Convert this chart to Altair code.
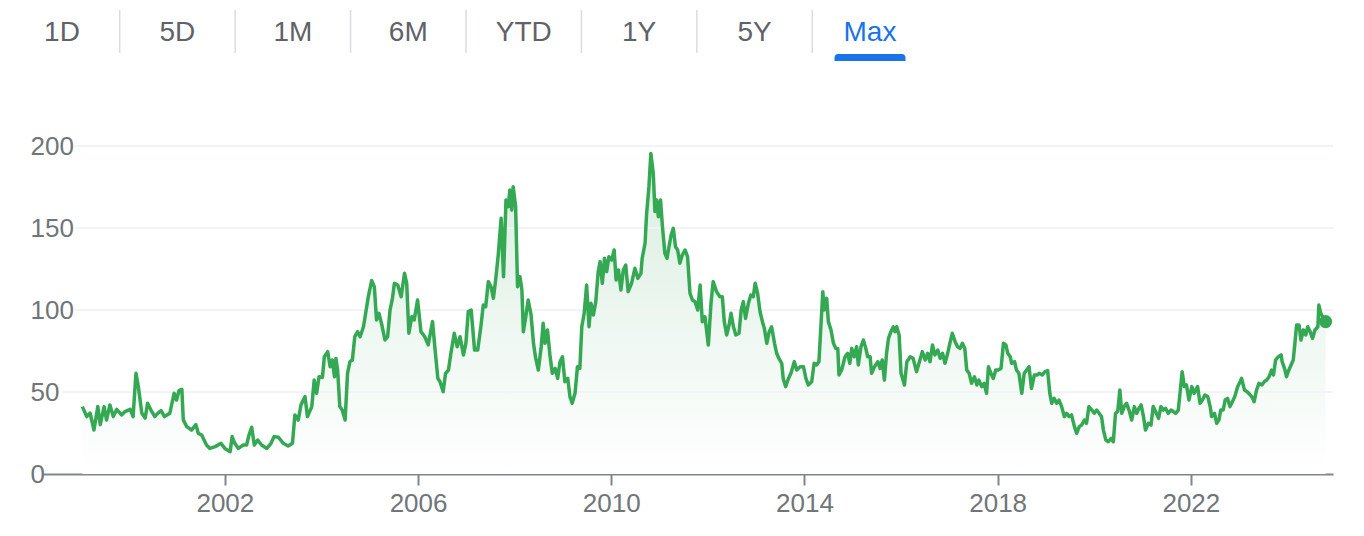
import altair as alt
import pandas as pd

TABS = ["1D", "5D", "1M", "6M", "YTD", "1Y", "5Y", "Max"]
ACTIVE_TAB = "Max"
Y_TICKS = [0, 50, 100, 150, 200]
X_TICKS = [2002, 2006, 2010, 2014, 2018, 2022]

# decimal year of each sample
T = [
    1999.05, 1999.14, 1999.21, 1999.29, 1999.37, 1999.42, 1999.50, 1999.55, 1999.62, 1999.69, 1999.76, 1999.86, 1999.93,
    2000.04, 2000.10, 2000.16, 2000.21, 2000.28, 2000.35, 2000.40, 2000.47, 2000.55, 2000.61, 2000.68, 2000.75, 2000.86, 2000.95,
    2001.00, 2001.05, 2001.11, 2001.14, 2001.21, 2001.31, 2001.40, 2001.45, 2001.52, 2001.62, 2001.69, 2001.80, 2001.92,
    2002.00, 2002.11, 2002.15, 2002.20, 2002.28, 2002.38, 2002.45, 2002.50, 2002.555, 2002.61, 2002.68, 2002.76, 2002.87, 2002.955,
    2003.02, 2003.11, 2003.21, 2003.31, 2003.40, 2003.45, 2003.52, 2003.575, 2003.66, 2003.71, 2003.80, 2003.85, 2003.90, 2003.95,
    2004.02, 2004.06, 2004.13, 2004.18, 2004.225, 2004.27, 2004.30, 2004.335, 2004.38, 2004.43, 2004.49, 2004.54, 2004.59, 2004.64, 2004.69, 2004.75, 2004.80, 2004.87, 2004.915, 2004.97,
    2005.04, 2005.095, 2005.14, 2005.19, 2005.25, 2005.315, 2005.37, 2005.42, 2005.47, 2005.51, 2005.58, 2005.65, 2005.72, 2005.765, 2005.81, 2005.87, 2005.92, 2005.99,
    2006.06, 2006.14, 2006.21, 2006.30, 2006.35, 2006.41, 2006.455, 2006.52, 2006.57, 2006.63, 2006.68, 2006.75, 2006.81, 2006.87, 2006.94, 2006.99,
    2007.04, 2007.10, 2007.17, 2007.235, 2007.30, 2007.35, 2007.40, 2007.455, 2007.51, 2007.56, 2007.61, 2007.66, 2007.72, 2007.77, 2007.82, 2007.87, 2007.90, 2007.94, 2007.97,
    2008.02, 2008.06, 2008.11, 2008.15, 2008.18, 2008.23, 2008.28, 2008.34, 2008.39, 2008.43, 2008.49, 2008.55, 2008.59, 2008.63, 2008.68, 2008.73, 2008.78, 2008.84, 2008.89, 2008.94, 2008.99,
    2009.04, 2009.10, 2009.145, 2009.19, 2009.25, 2009.30, 2009.35, 2009.39, 2009.44, 2009.49, 2009.54, 2009.58, 2009.63, 2009.68, 2009.73, 2009.77, 2009.815, 2009.86, 2009.905, 2009.95,
    2010.01, 2010.06, 2010.10, 2010.15, 2010.20, 2010.25, 2010.30, 2010.35, 2010.42, 2010.49, 2010.55, 2010.615, 2010.64, 2010.70, 2010.73, 2010.78, 2010.82, 2010.87, 2010.905, 2010.94, 2010.975,
    2011.02, 2011.06, 2011.11, 2011.155, 2011.195, 2011.24, 2011.285, 2011.33, 2011.375, 2011.42, 2011.47, 2011.53, 2011.58, 2011.63, 2011.68, 2011.735, 2011.79, 2011.84, 2011.885, 2011.94,
    2012.01, 2012.065, 2012.11, 2012.18, 2012.25, 2012.30, 2012.34, 2012.39, 2012.44, 2012.48, 2012.53, 2012.58, 2012.645, 2012.69, 2012.735, 2012.78, 2012.84, 2012.89, 2012.94, 2012.98,
    2013.03, 2013.08, 2013.13, 2013.17, 2013.22, 2013.27, 2013.32, 2013.38, 2013.425, 2013.47, 2013.53, 2013.56, 2013.61, 2013.67, 2013.72, 2013.79, 2013.84, 2013.91, 2013.98,
    2014.03, 2014.08, 2014.15, 2014.20, 2014.25, 2014.30, 2014.34, 2014.38, 2014.41, 2014.46, 2014.495, 2014.55, 2014.60, 2014.65, 2014.69, 2014.715, 2014.77, 2014.84, 2014.895, 2014.94, 2014.98,
    2015.03, 2015.08, 2015.115, 2015.17, 2015.22, 2015.27, 2015.31, 2015.36, 2015.39, 2015.45, 2015.52, 2015.565, 2015.61, 2015.655, 2015.70, 2015.74, 2015.79, 2015.84, 2015.875, 2015.91, 2015.96,
    2016.00, 2016.07, 2016.12, 2016.19, 2016.25, 2016.32, 2016.38, 2016.44, 2016.50, 2016.55, 2016.60, 2016.65, 2016.70, 2016.76, 2016.81, 2016.86, 2016.91, 2016.965,
    2017.01, 2017.06, 2017.12, 2017.17, 2017.22, 2017.27, 2017.32, 2017.36, 2017.41, 2017.46, 2017.52, 2017.57, 2017.61, 2017.67, 2017.72, 2017.77, 2017.81, 2017.86, 2017.91, 2017.96,
    2018.01, 2018.07, 2018.12, 2018.17, 2018.21, 2018.26, 2018.29, 2018.35, 2018.39, 2018.44, 2018.50, 2018.55, 2018.60, 2018.65, 2018.70, 2018.76, 2018.82, 2018.86, 2018.925, 2018.98,
    2019.035, 2019.08, 2019.12, 2019.17, 2019.22, 2019.27, 2019.325, 2019.38, 2019.43, 2019.48, 2019.53, 2019.59, 2019.635, 2019.69, 2019.74, 2019.795, 2019.84, 2019.89, 2019.95,
    2020.00, 2020.05, 2020.10, 2020.15, 2020.19, 2020.24, 2020.29, 2020.35, 2020.395, 2020.44, 2020.485, 2020.53, 2020.57, 2020.62, 2020.67, 2020.72, 2020.775, 2020.83, 2020.88, 2020.925, 2020.97,
    2021.02, 2021.06, 2021.12, 2021.175, 2021.22, 2021.27, 2021.33, 2021.38, 2021.43, 2021.48, 2021.53, 2021.59, 2021.64, 2021.685, 2021.74, 2021.775, 2021.82, 2021.865, 2021.91, 2021.96,
    2022.02, 2022.07, 2022.14, 2022.19, 2022.24, 2022.29, 2022.35, 2022.40, 2022.43, 2022.49, 2022.535, 2022.58, 2022.62, 2022.67, 2022.71, 2022.76, 2022.81, 2022.86, 2022.91, 2022.97,
    2023.02, 2023.05, 2023.11, 2023.16, 2023.20, 2023.26, 2023.31, 2023.36, 2023.41, 2023.47, 2023.52, 2023.57, 2023.62, 2023.67, 2023.71, 2023.755, 2023.81, 2023.87, 2023.89, 2023.95, 2023.98,
    2024.03, 2024.09, 2024.12, 2024.16, 2024.19, 2024.24, 2024.28, 2024.33, 2024.38, 2024.42, 2024.47, 2024.52, 2024.57, 2024.63, 2024.65, 2024.69, 2024.74, 2024.79,
]

# price of each sample
V = [
    41.1, 35.0, 37.2, 26.8, 41.1, 30.1, 41.1, 32.9, 42.1, 35.0, 39.4, 36.0, 38.0,
    39.4, 35.0, 61.4, 53.2, 37.2, 34.1, 43.1, 39.0, 35.0, 37.0, 38.6, 35.0, 37.0, 49.2,
    45.1, 50.8, 51.6, 33.0, 28.9, 26.8, 30.1, 24.8, 23.8, 17.7, 15.6, 16.7, 18.7,
    15.6, 13.6, 22.8, 19.0, 15.6, 17.7, 17.7, 23.8, 28.5, 17.7, 20.7, 17.7, 15.6, 18.7,
    22.8, 22.4, 18.7, 17.1, 18.7, 36.0, 32.9, 42.1, 47.2, 35.0, 41.1, 57.3, 49.2, 59.3,
    58.9, 71.5, 74.6, 65.4, 69.5, 59.3, 70.5, 63.4, 41.1, 39.0, 32.9, 61.4, 68.5, 69.5, 83.7, 86.8, 83.7, 89.8, 98.0, 108.1,
    117.9, 114.2, 93.9, 98.0, 90.9, 81.7, 83.7, 100.0, 107.1, 116.3, 115.2, 108.1, 122.4, 116.3, 85.8, 95.9, 93.9, 106.1,
    86.8, 83.7, 78.7, 92.9, 76.6, 58.3, 56.3, 50.2, 61.4, 63.4, 73.6, 85.8, 77.6, 83.7, 72.6, 79.7,
    99.0, 100.0, 75.6, 75.6, 89.8, 103.0, 102.0, 117.3, 114.2, 107.1, 119.3, 133.5, 155.9, 120.3, 167.1, 163.0, 173.2, 161.0, 175.2,
    163.0, 114.2, 120.3, 112.2, 86.8, 95.9, 106.1, 97.0, 79.7, 71.5, 63.4, 77.6, 91.9, 79.7, 87.8, 72.6, 61.4, 64.4, 58.3, 68.5, 71.5,
    56.3, 58.3, 47.2, 43.1, 49.2, 65.4, 64.4, 89.8, 98.0, 115.2, 89.8, 104.1, 97.0, 105.1, 123.4, 129.5, 116.3, 131.5, 123.4, 132.5,
    130.5, 136.6, 118.3, 124.4, 112.2, 124.4, 127.4, 111.2, 116.3, 125.4, 119.3, 122.4, 131.5, 140.7, 157.9, 175.2, 195.5, 183.3, 160.0, 167.1, 156.9,
    167.1, 150.8, 134.6, 131.5, 138.6, 145.7, 149.8, 138.6, 136.6, 128.5, 133.5, 136.6, 132.5, 110.2, 106.1, 105.1, 100.0, 115.2, 92.9, 95.9,
    78.7, 104.1, 117.3, 111.2, 108.1, 108.1, 92.9, 84.8, 90.9, 98.0, 89.8, 84.8, 85.8, 100.0, 105.1, 94.9, 104.1, 109.1, 108.1, 116.3,
    110.2, 99.0, 92.9, 88.8, 79.7, 86.8, 89.8, 79.7, 73.6, 70.5, 67.5, 58.3, 53.3, 58.3, 61.4, 68.5, 63.4, 65.4, 65.4,
    58.3, 54.3, 56.3, 67.5, 66.5, 68.5, 89.8, 111.2, 100.0, 107.1, 92.9, 87.8, 79.7, 76.6, 76.6, 60.4, 63.4, 71.5, 73.6, 67.5, 76.6,
    71.5, 77.6, 66.5, 77.6, 81.7, 76.6, 71.5, 71.5, 61.4, 65.4, 68.5, 64.4, 69.5, 57.3, 73.6, 82.7, 86.8, 89.8, 86.8, 89.8, 84.8,
    61.4, 54.3, 68.5, 71.5, 70.5, 62.4, 68.5, 74.6, 69.5, 73.6, 68.5, 78.7, 72.6, 75.6, 70.5, 73.6, 67.5, 73.6,
    79.7, 85.8, 80.7, 77.6, 76.6, 79.7, 76.6, 63.4, 61.4, 55.3, 59.3, 54.3, 57.3, 53.3, 55.3, 49.2, 65.4, 61.4, 58.3, 63.4,
    63.4, 64.4, 79.7, 78.7, 73.6, 71.5, 67.5, 68.5, 63.4, 61.4, 49.2, 61.4, 63.4, 65.4, 52.2, 60.4, 60.4, 61.4, 60.4, 62.4,
    63.0, 49.2, 43.1, 46.1, 43.1, 45.1, 41.1, 35.0, 37.0, 35.0, 36.0, 28.9, 24.8, 28.9, 29.9, 32.9, 30.9, 41.1, 39.0,
    37.0, 39.0, 37.0, 35.0, 26.8, 20.7, 19.7, 21.7, 19.7, 37.0, 38.0, 51.2, 37.0, 41.1, 43.1, 39.0, 32.9, 41.1, 37.0, 40.0, 42.1,
    35.0, 26.8, 30.9, 29.9, 41.1, 38.0, 33.9, 41.1, 39.0, 40.0, 37.0, 39.0, 38.0, 37.0, 39.0, 49.2, 62.4, 53.3, 54.3, 45.1,
    53.3, 49.2, 53.3, 43.1, 45.1, 48.2, 47.2, 41.1, 35.0, 37.0, 30.9, 32.9, 39.0, 39.0, 45.1, 46.1, 41.1, 44.1, 47.2, 53.3,
    56.3, 58.3, 51.2, 50.2, 49.2, 47.2, 44.1, 51.2, 55.3, 54.3, 56.3, 57.3, 59.3, 63.4, 60.4, 69.5, 71.5, 72.6, 68.5, 63.4, 59.3,
    63.4, 67.5, 69.5, 81.7, 90.9, 90.9, 81.7, 87.8, 84.8, 89.8, 86.8, 82.7, 87.8, 89.8, 103.0, 98.0, 94.9, 92.9,
]

assert len(T) == len(V)

FONT = "Liberation Sans"
GREEN = "#34a853"
BLUE = "#1a73e8"
LABEL_GREY = "#70757a"
TAB_GREY = "#5f6368"
GRID_GREY = "#f1f3f4"

df = pd.DataFrame({"t": T, "v": V})
last = df.tail(1)

xscale = alt.Scale(domain=[1998.235, 2024.943], nice=False, zero=False)
yscale = alt.Scale(domain=[0, 200], nice=False)

x_axis = alt.Axis(values=X_TICKS, format="d", title=None, grid=False,
                  labelFontSize=26, labelColor=LABEL_GREY, labelFont=FONT,
                  domainColor="#80868b", domainWidth=2, tickColor="#80868b",
                  tickWidth=2, tickSize=11, labelPadding=5, labelFlush=False)
y_axis = alt.Axis(values=Y_TICKS, title=None, grid=False, domain=False, ticks=False,
                  tickSize=0, labelAlign="left", labelPadding=13, labelBaseline="middle",
                  labelFontSize=26, labelColor=LABEL_GREY, labelFont=FONT)

X = alt.X("t:Q", scale=xscale, axis=x_axis)
Y = alt.Y("v:Q", scale=yscale, axis=y_axis)

area = alt.Chart(df).mark_area(
    color=alt.Gradient(
        gradient="linear",
        stops=[alt.GradientStop(color="#d9eedf", offset=0),
               alt.GradientStop(color="#ffffff", offset=1)],
        x1=0, x2=0, y1=0, y2=1),
).encode(x=X, y=Y)

grid_wide = alt.Chart(pd.DataFrame({"g": [g for g in Y_TICKS if g >= 100]})).mark_rule(
    color=GRID_GREY, strokeWidth=2
).encode(y=alt.Y("g:Q", scale=yscale, axis=y_axis), x=alt.value(32), x2=alt.value(1290))

grid_narrow = alt.Chart(pd.DataFrame({"g": [g for g in Y_TICKS if 0 < g < 100]})).mark_rule(
    color=GRID_GREY, strokeWidth=2
).encode(y=alt.Y("g:Q", scale=yscale, axis=y_axis), x=alt.value(19), x2=alt.value(1290))

line = alt.Chart(df).mark_line(color=GREEN, strokeWidth=3.5, strokeJoin="round").encode(x=X, y=Y)
dot = alt.Chart(last).mark_circle(color=GREEN, size=170, opacity=1).encode(x=X, y=Y)

main = alt.layer(area, grid_wide, grid_narrow, line, dot)

# range-selector tabs
tabdf = pd.DataFrame({"tab": TABS, "active": [t == ACTIVE_TAB for t in TABS]})
tscale = alt.Scale(type="point", domain=TABS, range=[19, 827], padding=0)
TX = alt.X("tab:N", scale=tscale, axis=None)

tab_text = alt.Chart(tabdf).mark_text(font=FONT, fontSize=28, baseline="middle").encode(
    x=TX, y=alt.value(-113), text="tab:N",
    color=alt.condition("datum.active", alt.value(BLUE), alt.value(TAB_GREY)))

seps = alt.Chart(tabdf).transform_filter(alt.datum.tab != TABS[-1]).mark_rule(
    color="#dadce0", strokeWidth=1.5, xOffset=57.7
).encode(x=TX, y=alt.value(-136), y2=alt.value(-93))

underline = alt.Chart(tabdf).transform_filter("datum.active").mark_bar(
    color=BLUE, width=71, cornerRadiusTopLeft=4, cornerRadiusTopRight=4
).encode(x=TX, y=alt.value(-92), y2=alt.value(-85))

tabs = alt.layer(seps, tab_text, underline)

chart = alt.layer(main, tabs).resolve_scale(x="independent").properties(
    width=1290, height=328,
    autosize=alt.AutoSizeParams(type="none"),
    padding={"left": 35, "top": 138, "right": 20, "bottom": 48},
    background="white",
).configure_view(stroke=None)

chart.save("out.html", embed_options={"renderer": "svg", "actions": False})
